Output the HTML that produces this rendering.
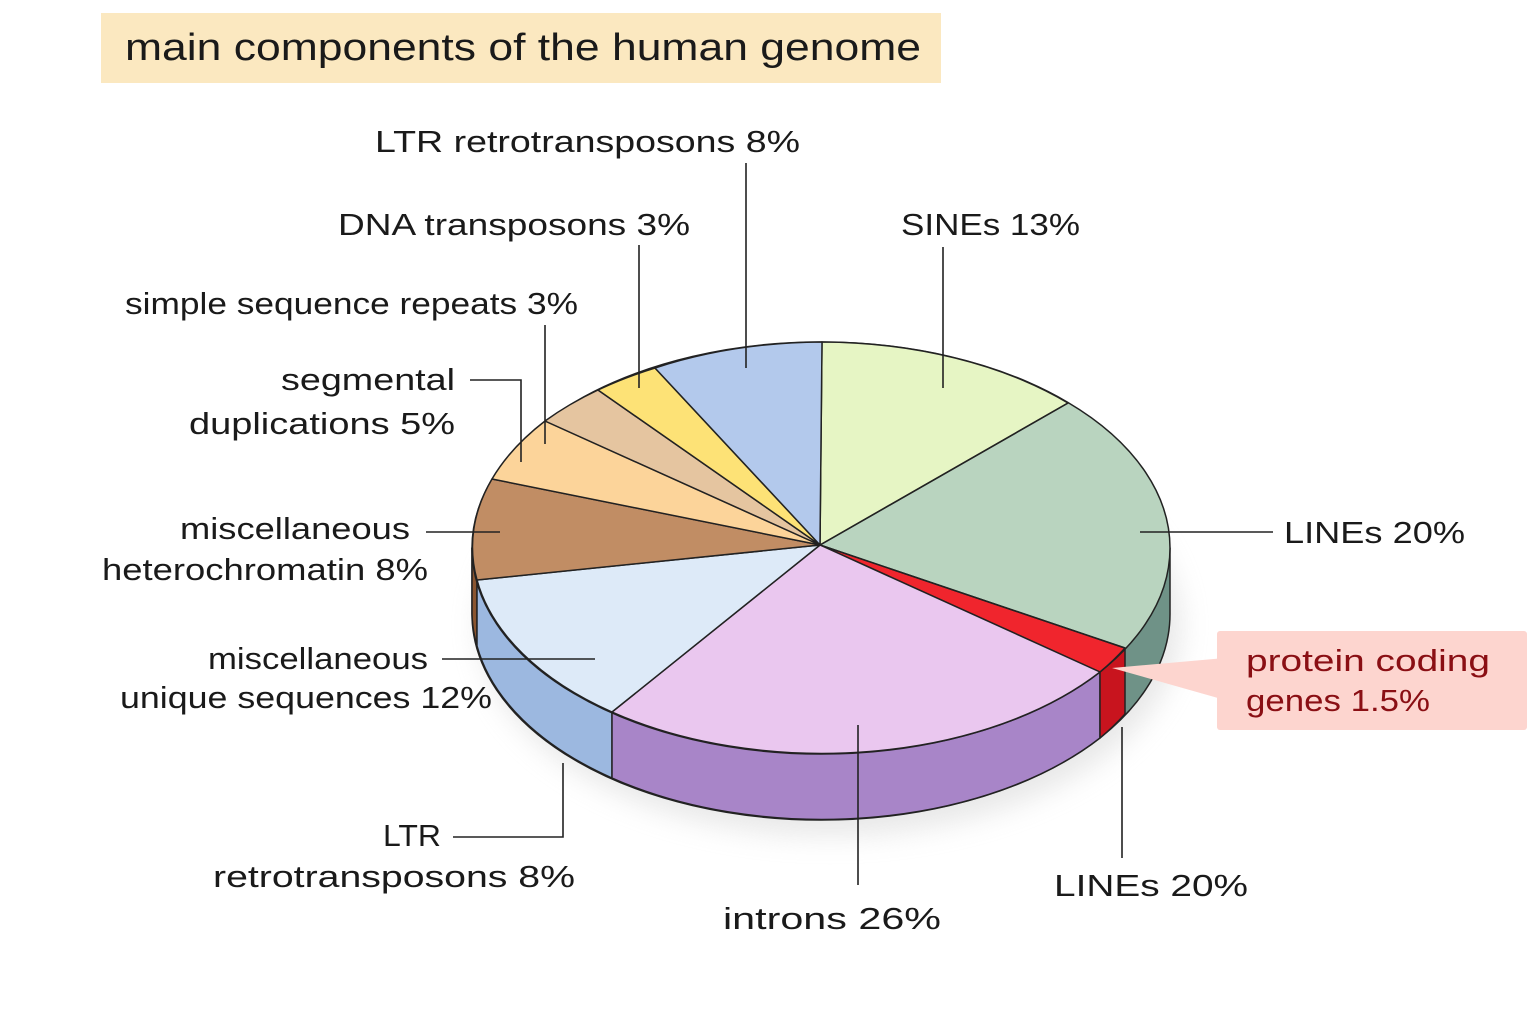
<!DOCTYPE html>
<html><head><meta charset="utf-8"><style>
html,body{margin:0;padding:0;background:#fff;}
svg{display:block;}
text{font-family:"Liberation Sans","DejaVu Sans",sans-serif;fill:#1a1a1a;}
</style></head><body>
<svg width="1536" height="1024" viewBox="0 0 1536 1024" xmlns="http://www.w3.org/2000/svg">
<defs>
<filter id="sh" x="-20%" y="-20%" width="140%" height="160%"><feGaussianBlur stdDeviation="14"/></filter>
</defs>
<rect x="101" y="13" width="840" height="70" fill="#fbe8c0"/>
<text x="125" y="60" font-size="38" textLength="796" lengthAdjust="spacingAndGlyphs">main components of the human genome</text>

<ellipse cx="830" cy="625" rx="350" ry="210" fill="#bbb" opacity="0.35" filter="url(#sh)"/>
<g stroke="#222" stroke-width="1.5" stroke-linejoin="round">
<path d="M472,548 L472,614 A349,206 0 0 0 1170,614 L1170,548 Z" fill="#6f9287"/>
<path d="M472,548 A349,206 0 0 0 477,580 L477,646 A349,206 0 0 1 472,614 Z" fill="#8a5530"/>
<path d="M477,580 A349,206 0 0 0 612,712 L612,778 A349,206 0 0 1 477,646 Z" fill="#9cb8e0"/>
<path d="M612,712 A349,206 0 0 0 1100,672 L1100,738 A349,206 0 0 1 612,778 Z" fill="#a885c8"/>
<path d="M1100,672 A349,206 0 0 0 1125,648 L1125,714 A349,206 0 0 1 1100,738 Z" fill="#c8141e"/>
<ellipse cx="821" cy="548" rx="349" ry="206" fill="#b9d4bf"/>
<path d="M820,545 L822,342 A349,206 0 0 1 1068,403 Z" fill="#e6f5c4"/>
<path d="M820,545 L1125,648 A349,206 0 0 1 1100,672 Z" fill="#f0252d"/>
<path d="M820,545 L1100,672 A349,206 0 0 1 612,712 Z" fill="#eac7ef"/>
<path d="M820,545 L612,712 A349,206 0 0 1 477,580 Z" fill="#ddeaf8"/>
<path d="M820,545 L477,580 A349,206 0 0 1 492,479 Z" fill="#c18d64"/>
<path d="M820,545 L492,479 A349,206 0 0 1 545,421 Z" fill="#fcd49a"/>
<path d="M820,545 L545,421 A349,206 0 0 1 598,390 Z" fill="#e5c5a0"/>
<path d="M820,545 L598,390 A349,206 0 0 1 655,368 Z" fill="#fde276"/>
<path d="M820,545 L655,368 A349,206 0 0 1 822,342 Z" fill="#b3c9ec"/>
<line x1="820" y1="545" x2="1068" y2="403"/>
<line x1="820" y1="545" x2="1125" y2="648"/>
</g>
<polygon points="1112,668 1225,658 1225,700" fill="#fdd5cf"/>
<rect x="1217" y="631" width="310" height="99" rx="3" fill="#fdd5cf"/>
<text x="1246" y="671" font-size="31" style="fill:#8a0f14" textLength="244" lengthAdjust="spacingAndGlyphs">protein coding</text>
<text x="1246" y="711" font-size="31" style="fill:#8a0f14" textLength="184" lengthAdjust="spacingAndGlyphs">genes 1.5%</text>

<g stroke="#222" stroke-width="1.6" fill="none">
<line x1="746" y1="163" x2="746" y2="368"/>
<line x1="639" y1="245" x2="639" y2="388"/>
<line x1="545" y1="325" x2="545" y2="444"/>
<polyline points="470,380 521,380 521,462"/>
<line x1="426" y1="532" x2="500" y2="532"/>
<line x1="442" y1="659" x2="595" y2="659"/>
<polyline points="453,837 563,837 563,763"/>
<line x1="858" y1="725" x2="858" y2="885"/>
<line x1="1122" y1="727" x2="1122" y2="858"/>
<line x1="943" y1="247" x2="943" y2="388"/>
<line x1="1140" y1="532" x2="1273" y2="532"/>
</g>
<g font-size="31">
<text x="375" y="152" textLength="425" lengthAdjust="spacingAndGlyphs">LTR retrotransposons 8%</text>
<text x="338" y="235" textLength="352" lengthAdjust="spacingAndGlyphs">DNA transposons 3%</text>
<text x="125" y="314" textLength="453" lengthAdjust="spacingAndGlyphs">simple sequence repeats 3%</text>
<text x="281" y="390" textLength="174" lengthAdjust="spacingAndGlyphs">segmental</text>
<text x="189" y="434" textLength="266" lengthAdjust="spacingAndGlyphs">duplications 5%</text>
<text x="180" y="539" textLength="230" lengthAdjust="spacingAndGlyphs">miscellaneous</text>
<text x="102" y="580" textLength="326" lengthAdjust="spacingAndGlyphs">heterochromatin 8%</text>
<text x="208" y="669" textLength="220" lengthAdjust="spacingAndGlyphs">miscellaneous</text>
<text x="120" y="708" textLength="372" lengthAdjust="spacingAndGlyphs">unique sequences 12%</text>
<text x="383" y="846" textLength="58" lengthAdjust="spacingAndGlyphs">LTR</text>
<text x="213" y="887" textLength="362" lengthAdjust="spacingAndGlyphs">retrotransposons  8%</text>
<text x="723" y="929" textLength="218" lengthAdjust="spacingAndGlyphs">introns 26%</text>
<text x="1054" y="896" textLength="194" lengthAdjust="spacingAndGlyphs">LINEs 20%</text>
<text x="901" y="235" textLength="179" lengthAdjust="spacingAndGlyphs">SINEs 13%</text>
<text x="1284" y="543" textLength="181" lengthAdjust="spacingAndGlyphs">LINEs 20%</text>
</g>
</svg>
</body></html>
